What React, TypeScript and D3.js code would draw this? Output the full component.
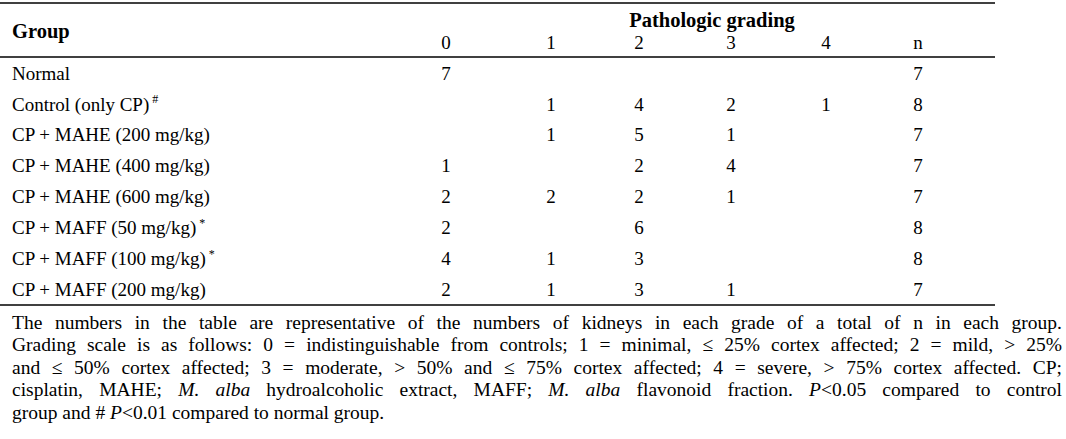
import React, { useEffect, useRef } from "react";
import * as d3 from "d3";

const groups = [
  "Normal",
  "Control (only CP)",
  "CP + MAHE (200 mg/kg)",
  "CP + MAHE (400 mg/kg)",
  "CP + MAHE (600 mg/kg)",
  "CP + MAFF (50 mg/kg)",
  "CP + MAFF (100 mg/kg)",
  "CP + MAFF (200 mg/kg)",
];
const groupMarks = ["", "#", "", "", "", "*", "*", ""];
const columns = ["0", "1", "2", "3", "4", "n"];
const grade0 = [7, null, null, 1, 2, 2, 4, 2];
const grade1 = [null, 1, 1, null, 2, null, 1, 1];
const grade2 = [null, 4, 5, 2, 2, 6, 3, 3];
const grade3 = [null, 2, 1, 4, 1, null, null, 1];
const grade4 = [null, 1, null, null, null, null, null, null];
const totals = [7, 8, 7, 7, 7, 8, 8, 7];

// caption lines, each a list of [text, italic]
const captionLines: Array<Array<[string, boolean]>> = [
  [["The numbers in the table are representative of the numbers of kidneys in each grade of a total of n in each group.", false]],
  [["Grading scale is as follows: 0 = indistinguishable from controls; 1 = minimal, \u2264 25% cortex affected; 2 = mild, > 25%", false]],
  [["and \u2264 50% cortex affected; 3 = moderate, > 50% and \u2264 75% cortex affected; 4 = severe, > 75% cortex affected. CP;", false]],
  [
    ["cisplatin, MAHE; ", false],
    ["M. alba", true],
    [" hydroalcoholic extract, MAFF; ", false],
    ["M. alba", true],
    [" flavonoid fraction. ", false],
    ["P", true],
    ["<0.05 compared to control", false],
  ],
  [["group and # ", false], ["P", true], ["<0.01 compared to normal group.", false]],
];

const W = 1066;
const H = 439;
const FONT = "Liberation Serif, Tinos, DejaVu Serif, serif";

export default function App() {
  const svgRef = useRef<SVGSVGElement>(null);

  useEffect(() => {
    document.body.style.margin = "0";
    if (!svgRef.current) return;
    const svg = d3.select(svgRef.current);
    svg.selectAll("*").remove();

    const g = svg.append("g").style("font-family", FONT).attr("fill", "#000");

    const x = d3
      .scaleOrdinal<string, number>()
      .domain(columns)
      .range([446, 551, 639, 731, 826, 918]);
    const y = d3.scalePoint<string>().domain(groups).range([73, 289]);

    const ruleRight = 995;
    [3, 57, 305].forEach((ly) => {
      g.append("line")
        .attr("x1", 0)
        .attr("x2", ruleRight)
        .attr("y1", ly)
        .attr("y2", ly)
        .attr("stroke", "#000")
        .attr("stroke-width", 1.6);
    });

    // header
    g.append("text")
      .attr("x", 12)
      .attr("y", 31)
      .attr("dy", "0.35em")
      .attr("font-size", 20.5)
      .attr("font-weight", "bold")
      .text("Group");
    g.append("text")
      .attr("x", 712)
      .attr("y", 20)
      .attr("dy", "0.35em")
      .attr("text-anchor", "middle")
      .attr("font-size", 20.5)
      .attr("font-weight", "bold")
      .text("Pathologic grading");
    g.selectAll(".colhead")
      .data(columns)
      .join("text")
      .attr("class", "colhead")
      .attr("x", (d) => x(d))
      .attr("y", 42)
      .attr("dy", "0.35em")
      .attr("text-anchor", "middle")
      .attr("font-size", 19)
      .text((d) => d);

    // row labels
    const labels = g
      .selectAll(".rowlabel")
      .data(groups)
      .join("text")
      .attr("class", "rowlabel")
      .attr("x", 12)
      .attr("y", (d) => y(d)!)
      .attr("dy", "0.35em")
      .attr("font-size", 19);
    labels.append("tspan").text((d) => d);
    labels
      .append("tspan")
      .attr("font-size", 12)
      .attr("dy", "-0.6em")
      .text((d, i) => (groupMarks[i] ? " " + groupMarks[i] : ""));

    // cells
    const gradeCols = [grade0, grade1, grade2, grade3, grade4, totals];
    const cells = groups.flatMap((grp, i) =>
      gradeCols.map((col, j) => ({ grp, col: columns[j], v: col[i] }))
    ).filter((c) => c.v !== null);
    g.selectAll(".cell")
      .data(cells)
      .join("text")
      .attr("class", "cell")
      .attr("x", (d) => x(d.col))
      .attr("y", (d) => y(d.grp)!)
      .attr("dy", "0.35em")
      .attr("text-anchor", "middle")
      .attr("font-size", 19)
      .text((d) => String(d.v));

    // caption, justified
    const capLeft = 12;
    const capWidth = 1050;
    const capY = d3.scaleLinear().domain([0, 4]).range([322, 412]);
    captionLines.forEach((parts, i) => {
      const t = g
        .append("text")
        .attr("x", capLeft)
        .attr("y", capY(i))
        .attr("dy", "0.35em")
        .attr("font-size", 19.5)
        .style("white-space", "pre");
      parts.forEach(([s, it]) => {
        t.append("tspan")
          .attr("font-style", it ? "italic" : "normal")
          .text(s);
      });
      if (i < captionLines.length - 1) {
        const node = t.node() as SVGTextElement;
        const len = node.getComputedTextLength();
        const spaces = parts.map((p) => p[0]).join("").split(" ").length - 1;
        if (spaces > 0) t.attr("word-spacing", (capWidth - len) / spaces);
      }
    });
  }, []);

  return <svg ref={svgRef} width={W} height={H} style={{ display: "block", background: "#fff" }} />;
}
